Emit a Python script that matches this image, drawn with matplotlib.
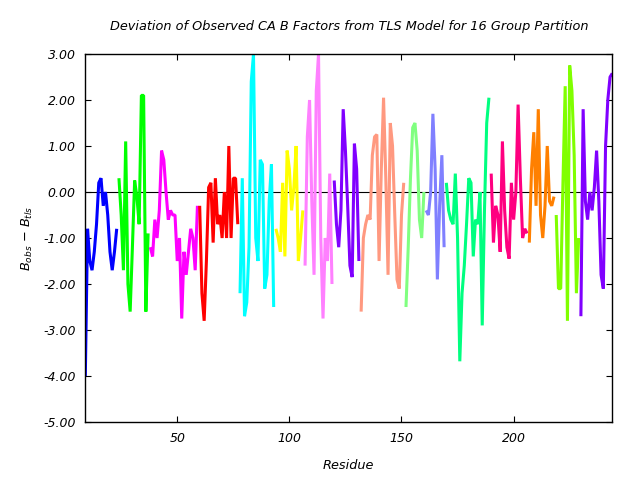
import matplotlib
matplotlib.use("Agg")
import matplotlib.pyplot as plt
import numpy as np

# Residue ranges and B-factor deviations for each TLS group
group_starts = [9, 24, 38, 60, 78, 94, 107, 120, 132, 152, 161, 170, 190, 207, 219, 230]
group_colors = ["#0000ff", "#00ff00", "#ff00ff", "#ff0000", "#00ffff", "#ffff00",
                "#ff80ff", "#8000ff", "#ff9980", "#80ff80", "#8080ff", "#00ff80",
                "#ff0080", "#ff8000", "#80ff00", "#8000ff"]

g01 = [-4.0, -0.8, -1.5, -1.7, -1.3, -0.7, 0.2, 0.3, -0.3, 0.0, -0.5, -1.3, -1.7, -1.3, -0.8]
g02 = [0.3, -0.5, -1.7, 1.1, -2.0, -2.6, -1.2, 0.25, -0.1, -0.7, 2.1, 2.1, -2.6, -0.9]
g03 = [-1.2, -1.4, -0.6, -1.0, -0.4, 0.9, 0.7, 0.0, -0.6, -0.4, -0.5, -0.5, -1.5, -1.0,
       -2.75, -1.3, -1.8, -1.3, -0.8, -1.0, -1.7, -0.3]
g04 = [-0.3, -2.2, -2.8, -1.5, 0.1, 0.2, -1.1, 0.3, -0.7, -0.5, -1.0, 0.0, -1.0, 1.0,
       -1.0, 0.3, 0.3, -0.7]
g05 = [-2.2, 0.3, -2.7, -2.4, -1.2, 2.4, 3.0, -1.0, -1.5, 0.7, 0.6, -2.1, -1.8, -0.2, 0.6, -2.5]
g06 = [-0.8, -1.0, -1.3, 0.2, -1.4, 0.9, 0.5, -0.4, 0.1, 1.0, -1.5, -1.0, -0.4]
g07 = [-1.6, 1.2, 2.0, -0.2, -1.8, 2.2, 3.0, -1.0, -2.75, -1.0, -1.5, 0.4, -2.0]
g08 = [0.25, -0.7, -1.2, -0.4, 1.8, 0.9, -0.3, -1.6, -1.85, 1.05, 0.5, -1.5]
g09 = [-2.6, -1.0, -0.7, -0.5, -0.6, 0.8, 1.2, 1.25, -1.5, 0.5, 2.05, 0.3, -1.8, 1.5,
       1.0, -0.5, -1.9, -2.1, -0.5, 0.2]
g10 = [-2.5, -1.2, 0.3, 1.4, 1.5, 0.9, -0.6, -1.0, 0.0]
g11 = [-0.4, -0.5, 0.0, 1.7, 0.5, -1.9, -0.3, 0.8, -1.2]
g12 = [0.2, -0.4, -0.6, -0.7, 0.4, -1.0, -3.68, -2.2, -1.6, -0.7, 0.3, 0.2, -1.4, -0.6,
       -0.7, 0.0, -2.9, -0.4, 1.5, 2.05]
g13 = [0.4, -1.1, -0.3, -0.5, -1.3, 1.1, -0.4, -1.2, -1.45, 0.2, -0.6, 0.0, 1.9, 0.3,
       -1.0, -0.8, -0.9]
g14 = [-1.1, 0.5, 1.3, -0.3, 1.8, -0.5, -1.0, -0.3, 1.0, -0.2, -0.3, -0.1]
g15 = [-0.5, -2.1, -2.1, 0.2, 2.3, -2.8, 2.75, 2.2, 0.8, -2.2, -1.0]
g16 = [-2.7, 1.8, -0.2, -0.6, 0.0, -0.4, 0.1, 0.9, -0.2, -1.8, -2.1, 1.0, 2.0, 2.5, 2.58]

groups = [g01, g02, g03, g04, g05, g06, g07, g08, g09, g10, g11, g12, g13, g14, g15, g16]

font = {"family": "DejaVu Sans", "style": "italic", "size": 9.3}

fig = plt.figure(figsize=(6.4, 4.8), dpi=100)
ax = fig.add_axes([0.1333, 0.1208, 0.8234, 0.7667])

ax.axhline(0, color="black", linewidth=0.8, zorder=1)
for start, vals, col in zip(group_starts, groups, group_colors):
    res = np.arange(start, start + len(vals))
    ax.plot(res, vals, color=col, linewidth=2.2, zorder=2,
            solid_joinstyle="bevel", solid_capstyle="butt")

ax.set_xlim(9, 244)
ax.set_ylim(-5, 3)
ax.set_xticks([50, 100, 150, 200])
ax.set_yticks(np.arange(-5, 3.01, 1))
ax.set_yticklabels(["%.2f" % v for v in np.arange(-5, 3.01, 1)])
ax.tick_params(direction="in", length=4, width=0.8, top=True, right=True, pad=7)
for lab in ax.get_xticklabels() + ax.get_yticklabels():
    lab.set_fontstyle("italic")
    lab.set_fontsize(9)
for sp in ax.spines.values():
    sp.set_linewidth(1.0)

ax.set_title("Deviation of Observed CA B Factors from TLS Model for 16 Group Partition",
             fontdict=font, pad=17)
ax.set_xlabel("Residue", fontdict=font, labelpad=10)
ax.set_ylabel(r"$B_{obs}$ $-$ $B_{tls}$", fontdict=font, labelpad=6)

fig.savefig("out.png", dpi=100)
